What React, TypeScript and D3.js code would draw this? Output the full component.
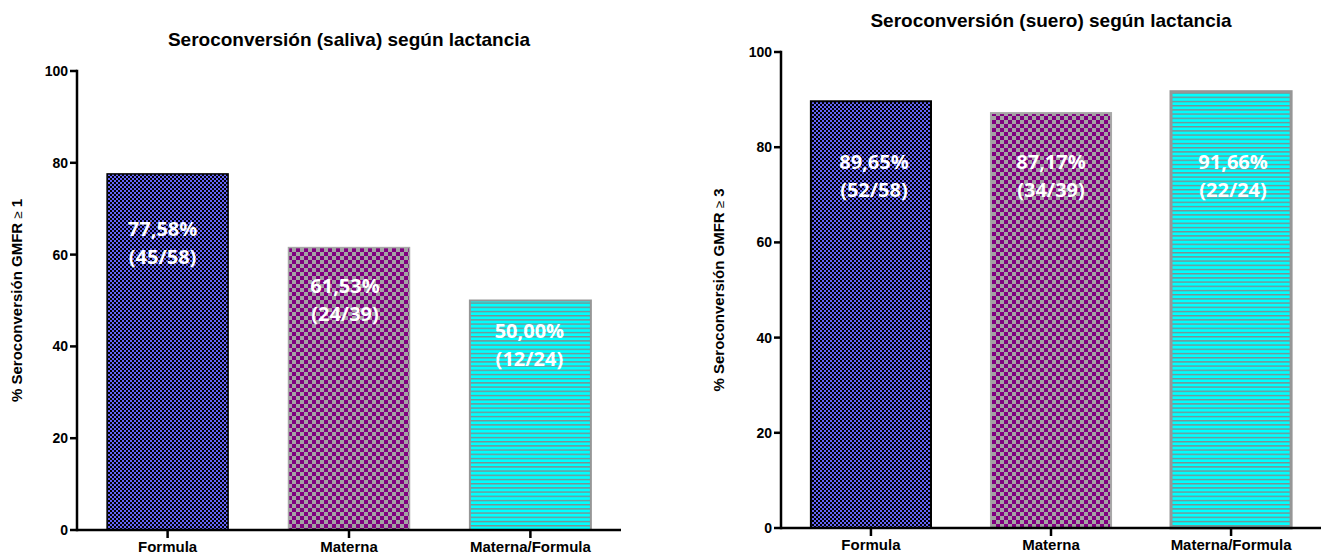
import React from 'react';
import * as d3 from 'd3';

// Feeding groups shared by both panels
const categories = ['Formula', 'Materna', 'Materna/Formula'];

// Saliva panel: % seroconversion (GMFR >= 1) and counts
const salivaPercent = [77.58, 61.53, 50.0];
const salivaPositive = [45, 24, 12];
const salivaTotal = [58, 39, 24];

// Serum panel: % seroconversion (GMFR >= 3) and counts
const sueroPercent = [89.65, 87.17, 91.66];
const sueroPositive = [52, 34, 22];
const sueroTotal = [58, 39, 24];

const yTicks = [0, 20, 40, 60, 80, 100];
const yDomain = [0, 100];

const salivaTitle = 'Seroconversión (saliva) según lactancia';
const sueroTitle = 'Seroconversión (suero) según lactancia';
const yLabelText = '% Seroconversión GMFR';
const salivaThreshold = '1';
const sueroThreshold = '3';

// ---- layout / style ----
const AXIS_FONT = "'Liberation Sans', Arial, Helvetica, sans-serif";
const BAR_FONT = "'Open Sans', 'Liberation Sans', sans-serif";
const patternIds = ['pat-formula', 'pat-materna', 'pat-mixta'];
const barStroke = ['#000000', '#a8a8a8', '#969696'];

type Panel = {
  title: string;
  percent: number[];
  positive: number[];
  total: number[];
  threshold: string;
  xRange: [number, number];
  yRange: [number, number];
  titleY: number;
  yLabelX: number;
  labelAt: number[]; // baseline of first label line, in axis units
  labelDx: number[];
  strokeW: number[];
};

const panels: Panel[] = [
  {
    title: salivaTitle,
    percent: salivaPercent,
    positive: salivaPositive,
    total: salivaTotal,
    threshold: salivaThreshold,
    xRange: [77, 621],
    yRange: [530, 71],
    titleY: 46,
    yLabelX: 22,
    labelAt: [64.05, 51.6, 41.8],
    labelDx: [-5, -4, -1],
    strokeW: [1.5, 1.5, 2],
  },
  {
    title: sueroTitle,
    percent: sueroPercent,
    positive: sueroPositive,
    total: sueroTotal,
    threshold: sueroThreshold,
    xRange: [781, 1321],
    yRange: [528, 52],
    titleY: 27,
    yLabelX: 724,
    labelAt: [75.4, 75.4, 75.4],
    labelDx: [3, 0, 2],
    strokeW: [2, 2, 3],
  },
];

const fmtPct = (v: number) => d3.format('.2f')(v).replace('.', ',') + '%';

function ChartPanel({ p }: { p: Panel }) {
  const x = d3
    .scaleBand<string>()
    .domain(categories)
    .range(p.xRange)
    .paddingInner(0.333)
    .paddingOuter(0.166);
  const y = d3.scaleLinear().domain(yDomain).range(p.yRange);
  const x0 = p.xRange[0];
  const yZero = y(0);
  const cx = (c: string) => (x(c) as number) + x.bandwidth() / 2;
  const midX = (p.xRange[0] + p.xRange[1]) / 2;
  const midY = (p.yRange[0] + p.yRange[1]) / 2;

  return (
    <g>
      {/* title */}
      <text
        x={midX}
        y={p.titleY}
        textAnchor="middle"
        fontFamily={AXIS_FONT}
        fontWeight="bold"
        fontSize={19}
        fill="#000"
      >
        {p.title}
      </text>

      {/* y axis label */}
      <text
        transform={`translate(${p.yLabelX},${midY}) rotate(-90)`}
        textAnchor="middle"
        fontFamily={AXIS_FONT}
        fontWeight="bold"
        fontSize={15}
        fill="#000"
      >
        {yLabelText + ' '}
        <tspan fontWeight="normal" fontSize={13}>≥</tspan>
        {' ' + p.threshold}
      </text>

      {/* bars */}
      {categories.map((c, i) => {
        const top = y(p.percent[i]);
        return (
          <rect
            key={c}
            x={x(c)}
            y={top}
            width={x.bandwidth()}
            height={yZero - top}
            fill={`url(#${patternIds[i]})`}
            stroke={barStroke[i]}
            strokeWidth={p.strokeW[i]}
          />
        );
      })}

      {/* in-bar labels */}
      {categories.map((c, i) => {
        const by = y(p.labelAt[i]);
        const tx = cx(c) + p.labelDx[i];
        return (
          <g key={c} fontFamily={BAR_FONT} fontWeight="bold" fontSize={20} fill="#ffffff" textAnchor="middle">
            <text x={tx} y={by}>{fmtPct(p.percent[i])}</text>
            <text x={tx} y={by + 28}>{`(${p.positive[i]}/${p.total[i]})`}</text>
          </g>
        );
      })}

      {/* y axis */}
      <line x1={x0} x2={x0} y1={y(100)} y2={yZero} stroke="#000" strokeWidth={2.5} strokeLinecap="square" />
      {yTicks.map((t) => (
        <g key={t}>
          <line x1={x0 - 7} x2={x0} y1={y(t)} y2={y(t)} stroke="#000" strokeWidth={2.5} />
          <text
            x={x0 - 9}
            y={y(t)}
            dy="0.36em"
            textAnchor="end"
            fontFamily={AXIS_FONT}
            fontWeight="bold"
            fontSize={14}
            fill="#000"
          >
            {t}
          </text>
        </g>
      ))}

      {/* x axis */}
      <line x1={x0} x2={p.xRange[1]} y1={yZero} y2={yZero} stroke="#000" strokeWidth={2.5} />
      {categories.map((c) => (
        <g key={c}>
          <line x1={cx(c)} x2={cx(c)} y1={yZero} y2={yZero + 8} stroke="#000" strokeWidth={2.5} />
          <text
            x={cx(c)}
            y={yZero + 22}
            textAnchor="middle"
            fontFamily={AXIS_FONT}
            fontWeight="bold"
            fontSize={15}
            fill="#000"
          >
            {c}
          </text>
        </g>
      ))}
    </g>
  );
}

export default function App() {
  return (
    <svg
      width={1324}
      height={555}
      viewBox="0 0 1324 555"
      style={{ position: 'absolute', left: 0, top: 0, background: '#fff' }}
    >
      <defs>
        <pattern id="pat-formula" patternUnits="userSpaceOnUse" width={4} height={4}>
          <rect width={4} height={4} fill="#6565f6" />
          <rect x={0} y={0} width={2} height={2} fill="#000" />
          <rect x={2} y={2} width={2} height={2} fill="#000" />
        </pattern>
        <pattern id="pat-materna" patternUnits="userSpaceOnUse" width={8} height={8}>
          <rect width={8} height={8} fill="#a3a3a3" />
          <rect x={0} y={0} width={4} height={4} fill="#800080" />
          <rect x={4} y={4} width={4} height={4} fill="#800080" />
        </pattern>
        <pattern id="pat-mixta" patternUnits="userSpaceOnUse" width={4} height={4.2}>
          <rect width={4} height={4.2} fill="#00ffff" />
          <rect x={0} y={0} width={4} height={1.4} fill="#7f8f8f" />
        </pattern>
      </defs>
      <rect width={1324} height={555} fill="#fff" />
      {panels.map((p, i) => (
        <ChartPanel key={i} p={p} />
      ))}
    </svg>
  );
}
